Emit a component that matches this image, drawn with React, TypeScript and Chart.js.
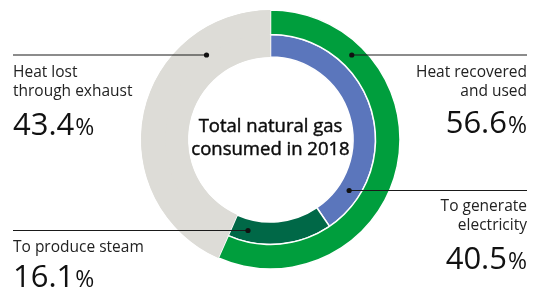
import React, { useEffect, useRef } from "react";
import { Chart, registerables } from "chart.js";

Chart.register(...registerables);

// ---- data ----
const outerLabels = ["Heat recovered and used", "Heat lost through exhaust"];
const outerValues = [56.6, 43.4];
const innerLabels = ["To generate electricity", "To produce steam", "Heat lost through exhaust"];
const innerValues = [40.5, 16.1, 43.4];
const centerLines = ["Total natural gas", "consumed in 2018"];

const GREEN = "#009E3D";
const GREY = "#DDDCD7";
const BLUE = "#5B76BC";
const DARK_GREEN = "#006847";

const FONT = "'Open Sans', 'Noto Sans', sans-serif";

type Ann = {
  lines: string[];
  value: number;
  side: "left" | "right";
  lineY: number;
  ds: number; // dataset index for dot radius (-1 = whole ring)
  textY: number[];
  valueY: number;
};

const annotations: Ann[] = [
  { lines: ["Heat lost", "through exhaust"], value: outerValues[1], side: "left", lineY: 47, ds: -1, textY: [69, 88], valueY: 126.5 },
  { lines: ["Heat recovered", "and used"], value: outerValues[0], side: "right", lineY: 47, ds: 0, textY: [69, 88], valueY: 125 },
  { lines: ["To generate", "electricity"], value: innerValues[0], side: "right", lineY: 182.5, ds: 1, textY: [203, 222], valueY: 260.5 },
  { lines: ["To produce steam"], value: innerValues[1], side: "left", lineY: 222.5, ds: 1, textY: [244], valueY: 278.5 },
];

const greyBackPlugin = {
  id: "greyBack",
  beforeDatasetsDraw(chart: any) {
    const ctx: CanvasRenderingContext2D = chart.ctx;
    const g0 = chart.getDatasetMeta(0).data[1];
    const g1 = chart.getDatasetMeta(1).data[2];
    if (!g0 || !g1) return;
    ctx.save();
    ctx.fillStyle = GREY;
    ctx.beginPath();
    ctx.arc(g0.x, g0.y, g0.outerRadius - 0.3, g0.startAngle + 0.004, g0.endAngle - 0.004);
    ctx.arc(g0.x, g0.y, g1.innerRadius + 0.3, g0.endAngle - 0.004, g0.startAngle + 0.004, true);
    ctx.closePath();
    ctx.fill();
    ctx.restore();
  },
};

const annotationPlugin = {
  id: "annotations",
  afterDraw(chart: any) {
    const ctx: CanvasRenderingContext2D = chart.ctx;
    const a0 = chart.getDatasetMeta(0).data[0];
    const a1 = chart.getDatasetMeta(1).data[0];
    const cx = a0.x;
    const cy = a0.y;
    const leftX = 5;
    const rightX = 519;
    ctx.save();
    ctx.fillStyle = "#0d0d0d";
    ctx.strokeStyle = "#0d0d0d";
    ctx.lineWidth = 0.45;
    ctx.font = `18.5px ${FONT}`;
    ctx.textAlign = "center";
    ctx.textBaseline = "alphabetic";
    ctx.fillText(centerLines[0], cx, 123.5);
    ctx.strokeText(centerLines[0], cx, 123.5);
    ctx.fillText(centerLines[1], cx, 147);
    ctx.strokeText(centerLines[1], cx, 147);

    annotations.forEach((a) => {
      let rMid: number;
      if (a.ds === -1) rMid = (a1.innerRadius + a0.outerRadius) / 2;
      else if (a.ds === 0) rMid = (a0.innerRadius + a0.outerRadius) / 2;
      else rMid = (a1.innerRadius + a1.outerRadius) / 2;
      const dy = a.lineY - cy;
      const dx = Math.sqrt(Math.max(rMid * rMid - dy * dy, 0));
      const dotX = a.side === "left" ? cx - dx : cx + dx;
      ctx.strokeStyle = "#1a1a1a";
      ctx.lineWidth = 1.2;
      ctx.beginPath();
      ctx.moveTo(a.side === "left" ? leftX : rightX, a.lineY);
      ctx.lineTo(dotX, a.lineY);
      ctx.stroke();
      ctx.fillStyle = "#111";
      ctx.beginPath();
      ctx.arc(dotX, a.lineY, 2.6, 0, Math.PI * 2);
      ctx.fill();

      const tx = a.side === "left" ? leftX : rightX;
      ctx.textAlign = a.side === "left" ? "left" : "right";
      ctx.fillStyle = "#222";
      ctx.font = `15.5px ${FONT}`;
      a.lines.forEach((l, i) => ctx.fillText(l, tx, a.textY[i]));

      const num = a.value.toFixed(1);
      ctx.fillStyle = "#111";
      ctx.font = `31px ${FONT}`;
      const wNum = ctx.measureText(num).width;
      ctx.font = `23px ${FONT}`;
      const wPct = ctx.measureText("%").width;
      const start = a.side === "left" ? tx : tx - wNum - wPct - 1;
      ctx.textAlign = "left";
      ctx.font = `31px ${FONT}`;
      ctx.fillText(num, start, a.valueY);
      ctx.font = `23px ${FONT}`;
      ctx.fillText("%", start + wNum + 1, a.valueY);
    });
    ctx.restore();
  },
};

export default function App() {
  const ref = useRef<HTMLCanvasElement | null>(null);
  useEffect(() => {
    if (!ref.current) return;
    const chart = new Chart(ref.current, {
      type: "doughnut",
      data: {
        labels: innerLabels,
        datasets: [
          {
            label: "Heat",
            data: outerValues,
            backgroundColor: [GREEN, GREY],
            borderColor: ["#ffffff", GREY],
            borderWidth: [1.5, 0],
            weight: 24.5,
          },
          {
            label: "Use",
            data: innerValues,
            backgroundColor: [BLUE, DARK_GREEN, GREY],
            borderColor: ["#ffffff", "#ffffff", GREY],
            borderWidth: [1.5, 1.5, 0],
            weight: 22.5,
          },
        ],
      },
      options: {
        responsive: false,
        animation: false,
        radius: 129.5,
        cutout: "63.7%",
        layout: { padding: { bottom: 22 } },
        plugins: {
          legend: { display: false },
          tooltip: { enabled: false },
        },
      },
      plugins: [greyBackPlugin, annotationPlugin],
    });
    return () => chart.destroy();
  }, []);
  return (
    <div style={{ width: 525, height: 285 }}>
      <canvas ref={ref} width={525} height={285} style={{ display: "block" }} />
    </div>
  );
}
